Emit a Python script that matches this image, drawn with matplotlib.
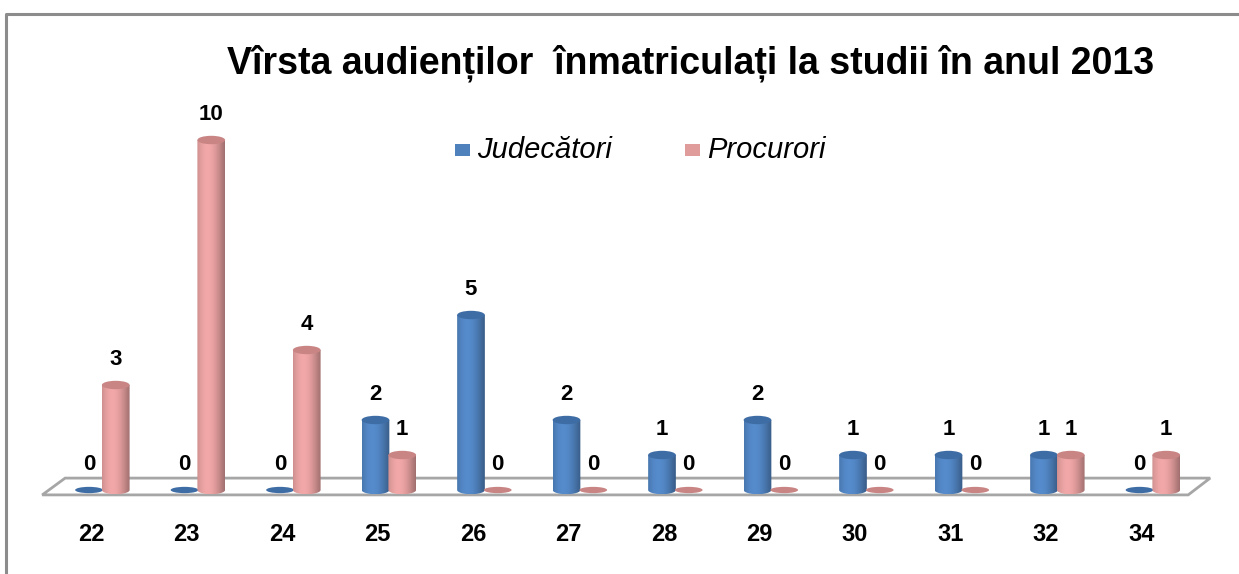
import numpy as np
import matplotlib.pyplot as plt
from matplotlib.patches import Ellipse, Polygon, Rectangle, PathPatch
from matplotlib.path import Path
from matplotlib.colors import to_rgb

# data
ages = ["22", "23", "24", "25", "26", "27", "28", "29", "30", "31", "32", "34"]
judecatori = [0, 0, 0, 2, 5, 2, 1, 2, 1, 1, 1, 0]
procurori = [3, 10, 4, 1, 0, 0, 0, 0, 0, 0, 1, 1]
series_names = ["Judecători", "Procurori"]
title = "Vîrsta audienților  înmatriculați la studii în anul 2013"

BLUE = "#4F81BD"
PINK = "#E09B9B"
BLUE_TOP = "#3E6CA4"
PINK_TOP = "#C98484"

plt.rcParams["font.family"] = ["Liberation Sans", "DejaVu Sans"]

fig = plt.figure(figsize=(12.39, 5.74), dpi=100)
ax = fig.add_axes([0, 0, 1, 1])
ax.set_xlim(-0.932, 12.042)
ax.set_ylim(-2.4, 14)
ax.axis("off")

W = 0.29      # cylinder width (category units)
EH = 0.24     # ellipse height (value units)


def shade(color, n=64):
    # horizontal shading across a cylinder: darker edges, light left-centre
    base = np.array(to_rgb(color))
    t = np.linspace(-1, 1, n)
    f = 0.78 + 0.3 * np.cos((t + 0.25) * np.pi / 2.2)
    return np.clip(base[None, :] * f[:, None], 0, 1)[None, :, :]


def cylinder(c, v, color, top):
    x0, x1 = c - W / 2, c + W / 2
    if v <= 0:
        ax.add_patch(Ellipse((c, 0), W, EH * 0.75, facecolor=top,
                             edgecolor="none", zorder=3))
        return
    th = np.linspace(np.pi, 2 * np.pi, 30)
    bottom = np.column_stack([c + W / 2 * np.cos(th), EH / 2 * np.sin(th)])
    verts = np.vstack([[x0, v], bottom, [x1, v], [x0, v]])
    clip = PathPatch(Path(verts), facecolor="none", edgecolor="none")
    ax.add_patch(clip)
    im = ax.imshow(shade(color), extent=[x0, x1, -EH / 2, v],
                   aspect="auto", zorder=3, interpolation="bilinear")
    im.set_clip_path(clip)
    ax.add_patch(Ellipse((c, v), W, EH, facecolor=top, edgecolor="none",
                         zorder=4))


# floor
floor = Polygon([(-0.49, -0.14), (-0.25, 0.34), (11.74, 0.34), (11.51, -0.14)],
                closed=True, facecolor="white", edgecolor="#A6A6A6",
                linewidth=2, zorder=1)
ax.add_patch(floor)

x = np.arange(len(ages))
offset = 0.28
for i in x:
    cylinder(i, judecatori[i], BLUE, BLUE_TOP)
    cylinder(i + offset, procurori[i], PINK, PINK_TOP)
    ax.text(i, judecatori[i] + 0.42, str(judecatori[i]), ha="center",
            va="bottom", fontsize=16, fontweight="bold")
    ax.text(i + offset, procurori[i] + 0.42, str(procurori[i]), ha="center",
            va="bottom", fontsize=16, fontweight="bold")
    ax.text(i + 0.02, -1.27, ages[i], ha="center", va="center",
            fontsize=17, fontweight="bold")

# title & legend
fig.text(0.557, 0.89, title, ha="center", va="center", fontsize=27,
         fontweight="bold")
fig.patches.append(Rectangle((0.367, 0.729), 0.0121, 0.021,
                             transform=fig.transFigure, facecolor=BLUE,
                             edgecolor="none"))
fig.text(0.385, 0.738, series_names[0], ha="left", va="center", fontsize=21,
         fontstyle="italic")
fig.patches.append(Rectangle((0.553, 0.729), 0.0121, 0.021,
                             transform=fig.transFigure, facecolor=PINK,
                             edgecolor="none"))
fig.text(0.571, 0.738, series_names[1], ha="left", va="center", fontsize=21,
         fontstyle="italic")

# outer frame
fig.lines.append(plt.Line2D([0.005, 0.005, 1.0], [0.0, 0.975, 0.975],
                            transform=fig.transFigure, color="#8C8C8C",
                            linewidth=2.2))

fig.savefig("out.png", dpi=100, facecolor="white")
